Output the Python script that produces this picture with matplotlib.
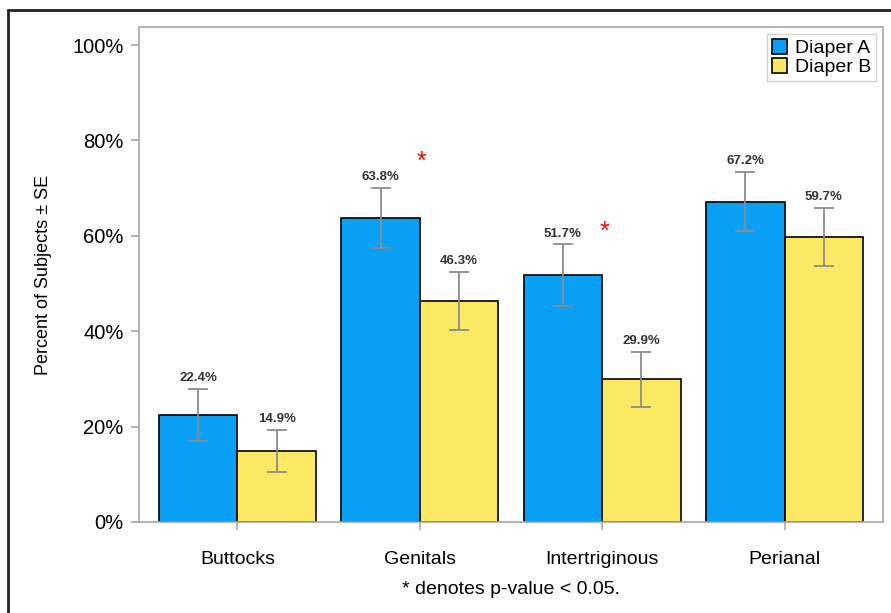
import matplotlib
matplotlib.use('Agg')
import matplotlib.pyplot as plt
from matplotlib.patches import Rectangle
import numpy as np

plt.rcParams['font.family'] = ['Liberation Sans', 'DejaVu Sans']

# Data: percent of subjects per region, with standard errors
regions = ['Buttocks', 'Genitals', 'Intertriginous', 'Perianal']
diaper_a = [22.4, 63.8, 51.7, 67.2]
diaper_b = [14.9, 46.3, 29.9, 59.7]
se_a = [5.5, 6.3, 6.5, 6.2]
se_b = [4.4, 6.1, 5.7, 6.1]
# height of the significance asterisk (None = not significant)
star_level = [None, 73.0, 58.3, None]

blue = '#0aa0f5'
yellow = '#fbe964'
axis_grey = '#a8a8a8'

fig = plt.figure(figsize=(8.91, 6.13), dpi=100)
ax = fig.add_axes([0.156, 0.1485, 0.835, 0.8075])

x = np.arange(len(regions))
w = 0.43

ax.bar(x - w / 2, diaper_a, w, color=blue, edgecolor='black',
       linewidth=1.2, label='Diaper A', zorder=2)
ax.bar(x + w / 2, diaper_b, w, color=yellow, edgecolor='black',
       linewidth=1.2, label='Diaper B', zorder=2)

ax.errorbar(x - w / 2, diaper_a, yerr=se_a, fmt='none', ecolor='#8c8c8c',
            elinewidth=1.3, capsize=7, capthick=1.3, zorder=3)
ax.errorbar(x + w / 2, diaper_b, yerr=se_b, fmt='none', ecolor='#8c8c8c',
            elinewidth=1.3, capsize=7, capthick=1.3, zorder=3)

# value labels above error bars
for xi, v, s in zip(x - w / 2, diaper_a, se_a):
    ax.text(xi, v + s + 1.0, f'{v:.1f}%', ha='center', va='bottom',
            fontsize=9.5, fontweight='bold', color='#333333')
for xi, v, s in zip(x + w / 2, diaper_b, se_b):
    ax.text(xi, v + s + 1.0, f'{v:.1f}%', ha='center', va='bottom',
            fontsize=9.5, fontweight='bold', color='#333333')

# significance markers
for xi, lvl in zip(x, star_level):
    if lvl is not None:
        ax.text(xi + 0.01, lvl, '*', ha='center', va='bottom',
                fontsize=18, color='red')

ax.set_xlim(-0.54, 3.54)
ax.set_ylim(0, 103.8)
ax.set_yticks([0, 20, 40, 60, 80, 100])
ax.set_yticklabels([f'{t}%' for t in [0, 20, 40, 60, 80, 100]])
ax.set_xticks(x)
ax.set_xticklabels(regions)

for sp in ax.spines.values():
    sp.set_color(axis_grey)
    sp.set_linewidth(1.2)
ax.tick_params(axis='both', colors=axis_grey, labelcolor='black',
               length=6, width=1.2, labelsize=14.5)
ax.tick_params(axis='y', pad=5)
ax.tick_params(axis='x', labelsize=14, pad=15)

ax.set_ylabel('Percent of Subjects ± SE', fontsize=13, labelpad=15)
ax.set_xlabel('* denotes p-value < 0.05.', fontsize=14, labelpad=9)

leg = ax.legend(loc='upper right', fontsize=14, frameon=True, fancybox=False,
                handlelength=0.8, handleheight=0.8, handletextpad=0.4,
                borderpad=0.25, labelspacing=0.05, borderaxespad=0.35)
leg.get_frame().set_edgecolor('#c8c8c8')
leg.get_frame().set_linewidth(1.0)

# outer frame around the figure
frame = Rectangle((8 / 891, -0.2), 1.2, 1.2 - 10 / 613, transform=fig.transFigure,
                  fill=False, edgecolor='#222222', linewidth=2, clip_on=False)
fig.patches.append(frame)

fig.savefig('out.png', dpi=100)
